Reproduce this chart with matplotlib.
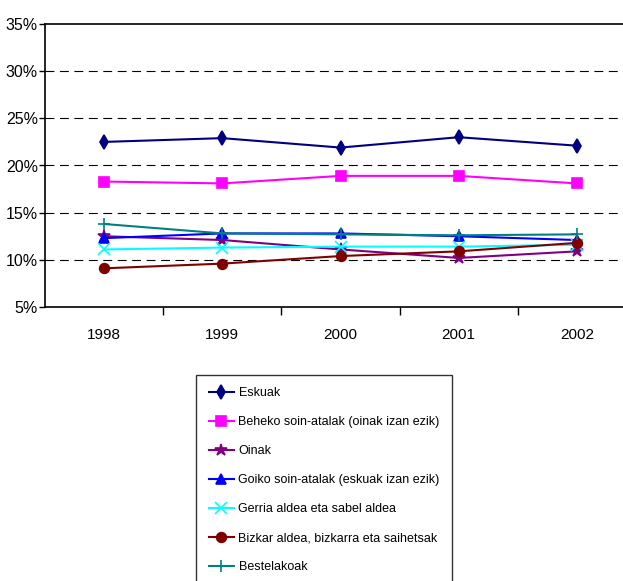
import numpy as np
import matplotlib
matplotlib.use("Agg")
import matplotlib.pyplot as plt
from matplotlib.ticker import FixedLocator, FuncFormatter

plt.rcParams['font.family'] = ['Liberation Sans', 'DejaVu Sans']

years = ["1998", "1999", "2000", "2001", "2002"]

labels = [
    "Eskuak",
    "Beheko soin-atalak (oinak izan ezik)",
    "Oinak",
    "Goiko soin-atalak (eskuak izan ezik)",
    "Gerria aldea eta sabel aldea",
    "Bizkar aldea, bizkarra eta saihetsak",
    "Bestelakoak",
]

eskuak = [22.5, 22.9, 21.9, 23.0, 22.1]
beheko = [18.3, 18.1, 18.9, 18.9, 18.1]
oinak = [12.5, 12.1, 11.1, 10.2, 10.9]
goiko = [12.3, 12.8, 12.8, 12.5, 12.1]
gerria = [11.1, 11.3, 11.4, 11.4, 11.6]
bizkar = [9.1, 9.6, 10.4, 10.9, 11.8]
beste = [13.8, 12.8, 12.7, 12.6, 12.7]

series = [eskuak, beheko, oinak, goiko, gerria, bizkar, beste]
colors = ["#000080", "#FF00FF", "#800080", "#0000FF", "#00FFFF", "#800000", "#008080"]
markers = ["d", "s", "*", "^", "x", "o", "+"]

fig = plt.figure(figsize=(6.23, 5.81), dpi=100)
W, H = 623, 581
# axes runs past the right edge of the picture, like the reference
ax = fig.add_axes([45 / W, 1 - 307 / H, (636 - 45) / W, (307 - 24) / H])

x = np.arange(len(years))
for vals, lab, c, m in zip(series, labels, colors, markers):
    ms = 7
    if m == "*":
        ms = 9
    if m in ("x", "+"):
        ms = 8
    ax.plot(x, vals, color=c, marker=m, markersize=ms, linewidth=1.5,
            label=lab, markeredgecolor=c, markerfacecolor=c, markeredgewidth=1.2)

ax.set_xlim(-0.5, len(years) - 0.5)
ax.set_ylim(5, 35)
ax.set_yticks([5, 10, 15, 20, 25, 30, 35])
ax.yaxis.set_major_formatter(FuncFormatter(lambda v, p: f"{v:.0f}%"))
ax.set_xticks(x)
ax.set_xticklabels(years)
ax.xaxis.set_minor_locator(FixedLocator(x[:-1] + 0.5))
ax.tick_params(axis="x", which="major", length=0, pad=15, labelsize=11)
ax.tick_params(axis="x", which="minor", length=6, direction="out", width=1)
ax.tick_params(axis="y", length=4, width=1, pad=1, labelsize=11.5)

for yv in [10, 15, 20, 25, 30]:
    ax.axhline(yv, color="black", linestyle=(0, (8, 5)), linewidth=0.8, zorder=0)

for s in ["left", "bottom", "top"]:
    ax.spines[s].set_linewidth(1.2)
ax.spines["right"].set_visible(False)

leg = fig.legend(loc="upper left", bbox_to_anchor=(196 / W, 1 - 375 / H),
                 frameon=True, fancybox=False, edgecolor="black",
                 fontsize=9, labelspacing=1.36, handlelength=2.0,
                 handletextpad=0.4, borderpad=1.0, borderaxespad=0)
leg.get_frame().set_linewidth(1.0)

fig.savefig("out.png", dpi=100)
